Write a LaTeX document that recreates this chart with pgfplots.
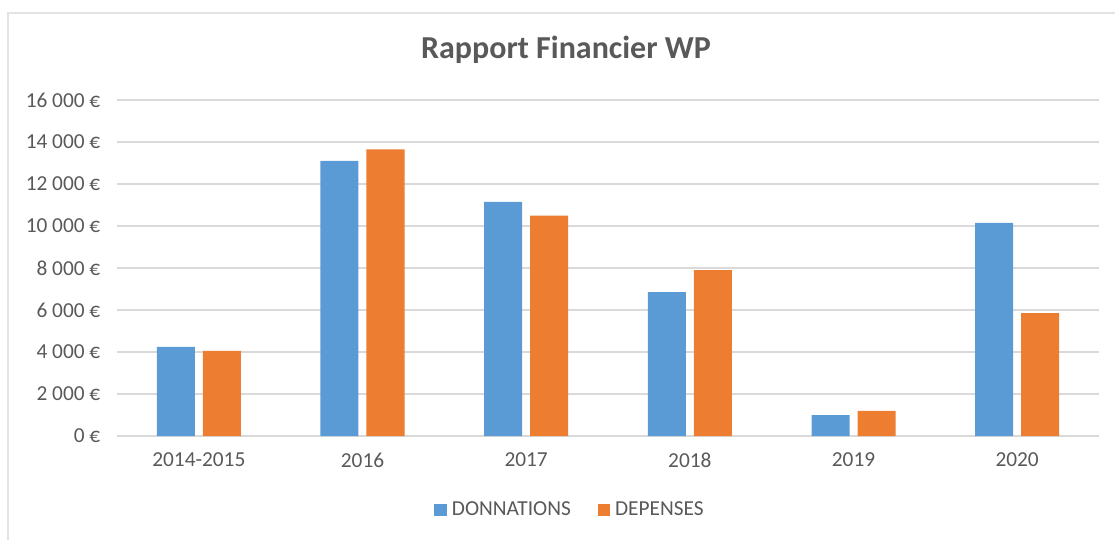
\documentclass[border=0pt]{standalone}
\usepackage{fontspec}
\setmainfont{Carlito}
\usepackage{pgfplots}
\pgfplotsset{compat=1.18}
\definecolor{xlblue}{HTML}{5B9BD5}
\definecolor{xlorange}{HTML}{ED7D31}
\definecolor{xltext}{HTML}{595959}
\definecolor{xlgrid}{HTML}{D9D9D9}
\definecolor{xlframe}{HTML}{E3E3E3}

\begin{document}
\begin{tikzpicture}
% 1 px of the reference = 0.75pt; axis box lower left at px (117,436)
\path[use as bounding box] (-87.75pt,-78pt) rectangle (748.5pt,327pt);
\draw[xlframe,line width=1.5pt] (-81.75pt,-78pt) -- (-81.75pt,317.25pt) -- (748.5pt,317.25pt);
\begin{axis}[
    at={(0pt,0pt)},anchor=south west,
    scale only axis,width=736.5pt,height=252pt,
    ybar=6pt,bar width=28.5pt,
    xmin=-0.5,xmax=5.5,ymin=0,ymax=16000,
    xtick=data,
    xticklabels={2014-2015,2016,2017,2018,2019,2020},
    ytick={0,2000,...,16000},
    scaled y ticks=false,
    yticklabel={\pgfmathprintnumber[assume math mode=true,fixed,precision=0,1000 sep={\ }]{\tick}~€},
    axis x line*=bottom,axis y line*=left,
    x axis line style={xlgrid,line width=1.3pt,-},
    y axis line style={draw=none},
    major tick length=0pt,
    ymajorgrids,grid style={xlgrid,line width=1.3pt},
    tick label style={font=\fontsize{16}{19}\selectfont,text=xltext},
    yticklabel style={xshift=-9pt},
    xticklabel style={yshift=-9pt},
    legend style={at={(0.463,-0.22)},anchor=center,draw=none,
        legend columns=2,font=\fontsize{16}{19}\selectfont,text=xltext,
        nodes={inner xsep=4pt},
        /tikz/every even column/.append style={column sep=16pt}},
    legend image code/.code={\fill[#1,draw=none] (0pt,-4.6pt) rectangle (9.2pt,4.6pt);},
]
\addplot[fill=xlblue,draw=none] coordinates {(0,4250) (1,13100) (2,11150) (3,6850) (4,1000) (5,10150)};
\addplot[fill=xlorange,draw=none] coordinates {(0,4050) (1,13650) (2,10500) (3,7900) (4,1200) (5,5850)};
\legend{DONNATIONS,DEPENSES}
\end{axis}
\node[anchor=base,text=xltext,font=\fontsize{24}{29}\selectfont\bfseries] at (336.75pt,282.75pt) {Rapport Financier WP};
\end{tikzpicture}
\end{document}
